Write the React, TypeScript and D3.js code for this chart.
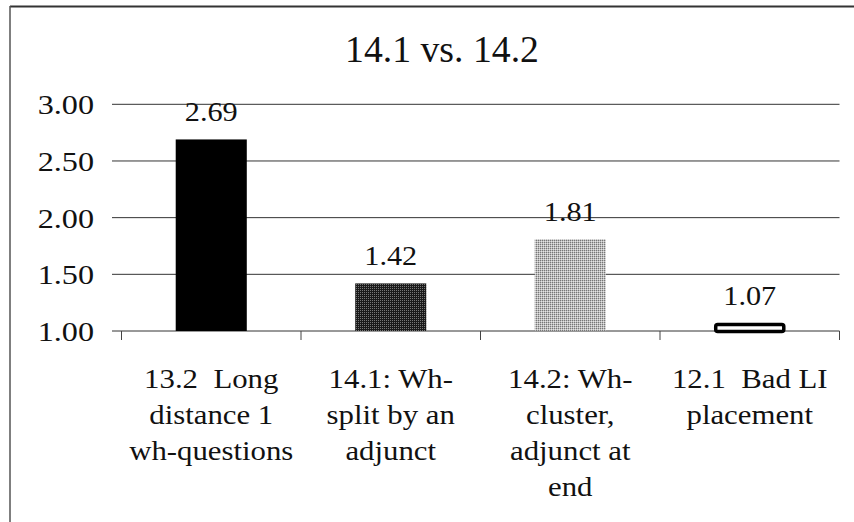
import React from "react";
import * as d3 from "d3";

const title = "14.1 vs. 14.2";
const categories = ["13.2", "14.1", "14.2", "12.1"];
const categoryLines: string[][] = [
  ["13.2\u00a0 Long", "distance 1", "wh-questions"],
  ["14.1: Wh-", "split by an", "adjunct"],
  ["14.2: Wh-", "cluster,", "adjunct at", "end"],
  ["12.1\u00a0 Bad LI", "placement"],
];
const values = [2.69, 1.42, 1.81, 1.07];
const valueLabels = ["2.69", "1.42", "1.81", "1.07"];
const yTicks = [1.0, 1.5, 2.0, 2.5, 3.0];
const fills = ["#000000", "url(#ditherDark)", "url(#ditherLight)", "#ffffff"];

const W = 854;
const H = 522;

export default function App() {
  const y = d3.scaleLinear().domain([1, 3]).range([331, 104.3]);
  const x = d3
    .scaleBand<string>()
    .domain(categories)
    .range([121.5, 839.5])
    .paddingInner(0.604)
    .paddingOuter(0.302);
  const step = x.step();
  const left = 121.5;
  const bounds = d3.range(categories.length + 1).map((i) => left + i * step);

  const T = (
    tx: number,
    ty: number,
    s: string,
    size: number,
    anchor: string,
    key: string,
    sx: number
  ) => (
    <g key={key} transform={`translate(${tx},${ty}) scale(${sx},1)`}>
      <text
        x={0}
        y={0}
        textAnchor={anchor}
        fill="#111"
        style={{ fontFamily: "Liberation Serif", fontSize: size + "px" }}
      >
        {s}
      </text>
    </g>
  );

  return (
    <svg
      width={W}
      height={H}
      style={{ position: "absolute", left: 0, top: 0, background: "#fff" }}
    >
      <defs>
        <pattern id="ditherDark" width="2" height="2" patternUnits="userSpaceOnUse">
          <rect width="2" height="2" fill="#1a1a1a" />
          <rect width="1" height="1" fill="#777" />
        </pattern>
        <pattern id="ditherLight" width="2" height="2" patternUnits="userSpaceOnUse">
          <rect width="2" height="2" fill="#bcbcbc" />
          <rect width="1" height="1" fill="#777" />
          <rect x="1" y="1" width="1" height="1" fill="#e4e4e4" />
        </pattern>
      </defs>
      <rect width={W} height={H} fill="#fff" />
      {/* frame */}
      <line x1={10} x2={W} y1={6.5} y2={6.5} stroke="#333" strokeWidth={2} />
      <line x1={10} x2={10} y1={6} y2={H} stroke="#555" strokeWidth={1.5} />

      {/* title */}
      {T(442, 62, title, 37, "middle", "title", 1.02)}

      {/* gridlines */}
      {yTicks.map((t) => (
        <line
          key={"g" + t}
          x1={112}
          x2={839.5}
          y1={y(t)}
          y2={y(t)}
          stroke="#333"
          strokeWidth={1}
        />
      ))}
      {/* y tick labels */}
      {yTicks.map((t) => T(94, y(t) + 10, d3.format(".2f")(t), 28, "end", "yl" + t, 1.15))}

      {/* category ticks */}
      {bounds.map((b, i) => (
        <line key={"ct" + i} x1={b} x2={b} y1={y(1)} y2={y(1) + 9} stroke="#444" strokeWidth={1} />
      ))}

      {/* bars */}
      {values.map((v, i) => {
        const bx = x(categories[i])!;
        const bw = x.bandwidth();
        const top = y(v);
        const last = i === 3;
        return (
          <rect
            key={"b" + i}
            x={last ? bx + 1.5 : bx}
            y={last ? top + 1.5 : top}
            width={last ? bw - 3 : bw}
            height={last ? y(1) - top - 1 : y(1) - top}
            fill={fills[i]}
            stroke={last ? "#000" : "none"}
            strokeWidth={last ? 3.5 : 0}
            rx={last ? 2 : 0}
          />
        );
      })}

      {/* value labels */}
      {values.map((v, i) =>
        T(x(categories[i])! + x.bandwidth() / 2, y(v) - 18, valueLabels[i], 28, "middle", "vl" + i, 1.08)
      )}

      {/* category labels */}
      {categoryLines.map((lines, i) =>
        lines.map((ln, j) =>
          T(
            x(categories[i])! + x.bandwidth() / 2,
            388 + j * 36,
            ln,
            28,
            "middle",
            "cl" + i + "-" + j,
            1.1
          )
        )
      )}
    </svg>
  );
}
